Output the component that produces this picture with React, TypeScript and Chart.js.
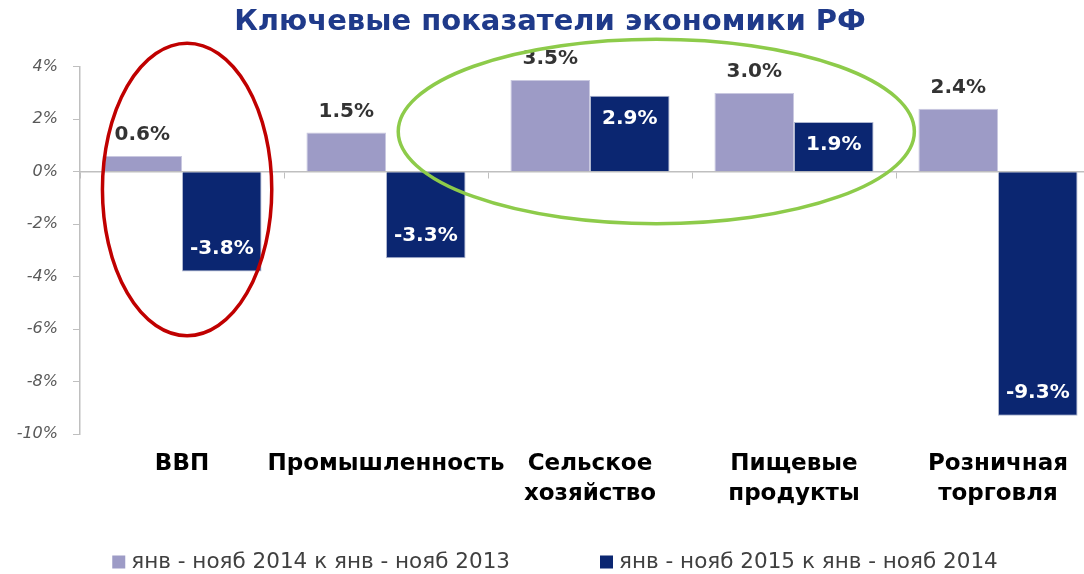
import React, { useEffect, useRef } from "react";
import { Chart, registerables } from "chart.js";

Chart.register(...registerables);

const TITLE = "Ключевые показатели экономики РФ";
const CATEGORIES: string[][] = [
  ["ВВП"],
  ["Промышленность"],
  ["Сельское", "хозяйство"],
  ["Пищевые", "продукты"],
  ["Розничная", "торговля"],
];
const SERIES_2014_LABEL = "янв - нояб 2014 к янв - нояб 2013";
const SERIES_2015_LABEL = "янв - нояб 2015 к янв - нояб 2014";
const SERIES_2014 = [0.6, 1.5, 3.5, 3.0, 2.4];
const SERIES_2015 = [-3.8, -3.3, 2.9, 1.9, -9.3];
const Y_MIN = -10;
const Y_MAX = 4;
const Y_STEP = 2;

const COLOR_LIGHT = "#9D9BC6";
const COLOR_DARK = "#0B2671";

// Highlight ellipses in data units: [xFrom, xTo] category index, [yTop, yBottom] value
const RED_ELLIPSE = { x: [-0.39, 0.44], y: [4.9, -6.25], color: "#C00000" };
const GREEN_ELLIPSE = { x: [1.06, 3.59], y: [5.05, -1.98], color: "#8DCB4A" };

const labelsPlugin = {
  id: "valueLabels",
  afterDatasetsDraw(chart: any) {
    const ctx = chart.ctx;
    ctx.save();
    ctx.font = "bold 20px 'DejaVu Sans'";
    ctx.textAlign = "center";
    ctx.textBaseline = "middle";
    chart.data.datasets.forEach((ds: any, di: number) => {
      const meta = chart.getDatasetMeta(di);
      meta.data.forEach((bar: any, i: number) => {
        const v = ds.data[i] as number;
        const txt = v.toFixed(1) + "%";
        const sign = v >= 0 ? 1 : -1;
        if (di === 0) {
          ctx.fillStyle = "#333333";
          ctx.fillText(txt, bar.x, bar.y - sign * 21);
        } else {
          ctx.fillStyle = "#FFFFFF";
          ctx.fillText(txt, bar.x, bar.y + sign * 23);
        }
      });
    });
    ctx.restore();
  },
};

const ellipsePlugin = {
  id: "ellipses",
  afterDraw(chart: any) {
    const ctx = chart.ctx;
    const xs = chart.scales.x;
    const ys = chart.scales.y;
    ctx.save();
    [RED_ELLIPSE, GREEN_ELLIPSE].forEach((e) => {
      const x1 = xs.getPixelForValue(e.x[0]);
      const x2 = xs.getPixelForValue(e.x[1]);
      const y1 = ys.getPixelForValue(e.y[0]);
      const y2 = ys.getPixelForValue(e.y[1]);
      ctx.beginPath();
      ctx.ellipse((x1 + x2) / 2, (y1 + y2) / 2, Math.abs(x2 - x1) / 2, Math.abs(y2 - y1) / 2, 0, 0, Math.PI * 2);
      ctx.strokeStyle = e.color;
      ctx.lineWidth = 3.5;
      ctx.stroke();
    });
    ctx.restore();
  },
};

const legendPlugin = {
  id: "bottomLegend",
  afterDraw(chart: any) {
    const ctx = chart.ctx;
    ctx.save();
    ctx.font = "21.5px 'DejaVu Sans'";
    ctx.textBaseline = "middle";
    const box = 13;
    const gapBox = 6;
    const gapItem = 90;
    const items = chart.data.datasets.map((ds: any) => ({
      text: ds.label as string,
      color: ds.backgroundColor as string,
      w: ctx.measureText(ds.label).width,
    }));
    const total = items.reduce((s: number, it: any) => s + box + gapBox + it.w, 0) + gapItem * (items.length - 1);
    let x = chart.width / 2 - total / 2;
    const y = 562;
    items.forEach((it: any) => {
      ctx.fillStyle = it.color;
      ctx.fillRect(x, y - box / 2, box, box);
      x += box + gapBox;
      ctx.fillStyle = "#404040";
      ctx.fillText(it.text, x, y);
      x += it.w + gapItem;
    });
    ctx.restore();
  },
};

export default function App() {
  const ref = useRef<HTMLCanvasElement | null>(null);
  useEffect(() => {
    if (!ref.current) return;
    const chart = new Chart(ref.current, {
      type: "bar",
      data: {
        labels: CATEGORIES,
        datasets: [
          {
            label: SERIES_2014_LABEL,
            data: SERIES_2014,
            backgroundColor: COLOR_LIGHT,
            borderColor: "#C9C8E0",
            borderWidth: 1,
            categoryPercentage: 0.78,
            barPercentage: 1,
          },
          {
            label: SERIES_2015_LABEL,
            data: SERIES_2015,
            backgroundColor: COLOR_DARK,
            borderColor: "#AEB6CF",
            borderWidth: 1,
            categoryPercentage: 0.78,
            barPercentage: 1,
          },
        ],
      },
      options: {
        animation: false,
        responsive: true,
        maintainAspectRatio: false,
        layout: { padding: { left: 0, right: 10, top: 0, bottom: 58 } },
        plugins: {
          legend: { display: false },
          tooltip: { enabled: false },
          title: {
            display: true,
            text: TITLE,
            color: "#1F3A8A",
            font: { family: "'DejaVu Sans'", size: 29, weight: "bold", lineHeight: 1.2 },
            padding: { top: 5, bottom: 27 },
          },
        },
        scales: {
          x: {
            grid: { display: false },
            border: { display: false },
            ticks: {
              color: "#000000",
              font: { family: "'DejaVu Sans'", size: 23, weight: "bold", lineHeight: 1.3 },
              padding: 7,
              maxRotation: 0,
              minRotation: 0,
              autoSkip: false,
            },
          },
          x2: {
            type: "category",
            labels: CATEGORIES.map((c) => c.join(" ")),
            position: { y: 0 } as any,
            offset: true,
            ticks: { display: false },
            grid: { offset: true, drawOnChartArea: false, drawTicks: true, tickLength: 6, color: "#BFBFBF" },
            border: { display: true, color: "#BFBFBF", width: 1.5 },
          },
          y: {
            min: Y_MIN,
            max: Y_MAX,
            afterFit: (s: any) => {
              s.width = 80;
            },
            ticks: {
              stepSize: Y_STEP,
              color: "#595959",
              padding: 15,
              font: { family: "'DejaVu Sans'", size: 16, style: "italic" },
              callback: (v: any) => v + "%",
            },
            grid: { drawOnChartArea: false, drawTicks: true, tickLength: 7, tickColor: "#BFBFBF" },
            border: { display: true, color: "#BFBFBF", width: 1.5 },
          },
        },
      } as any,
      plugins: [labelsPlugin, ellipsePlugin, legendPlugin],
    });
    return () => chart.destroy();
  }, []);
  return (
    <div style={{ position: "fixed", left: 0, top: 0, width: 1084, height: 574, overflow: "hidden", background: "#fff" }}>
      <div style={{ position: "absolute", left: 0, top: 0, width: 1110, height: 574 }}>
        <canvas ref={ref} />
      </div>
    </div>
  );
}
